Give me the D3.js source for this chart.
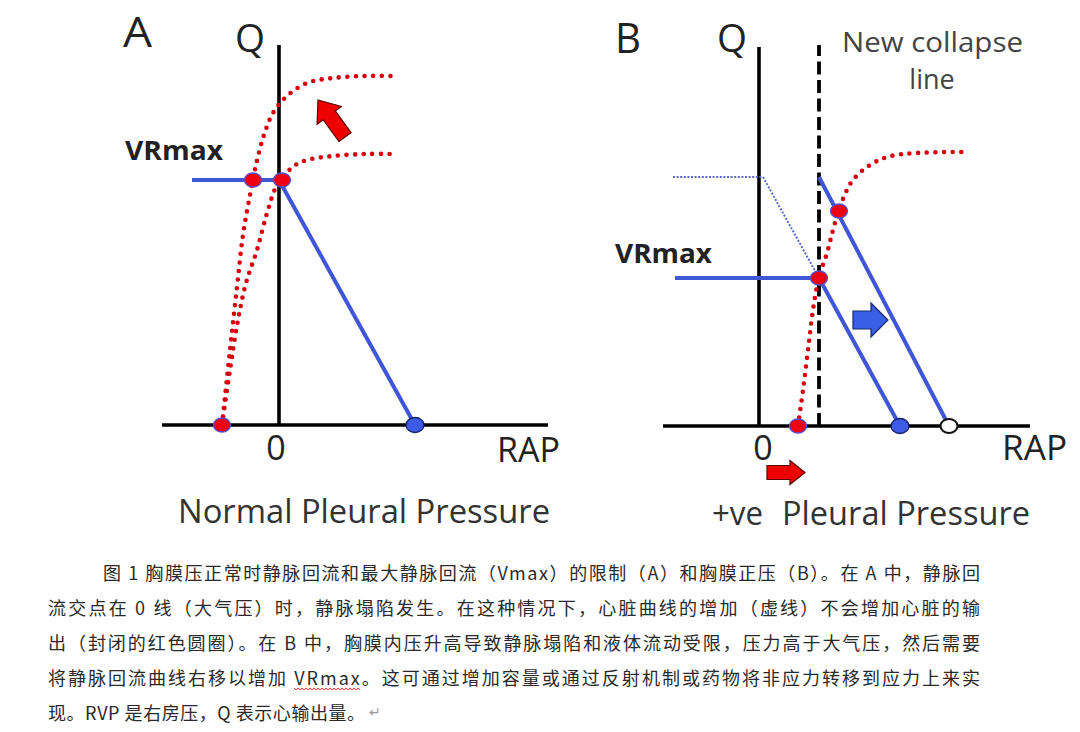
<!DOCTYPE html>
<html><head><meta charset="utf-8">
<script src="https://cdn.jsdelivr.net/npm/d3@7"></script>
<style>body{margin:0;background:#fff}svg{display:block}</style>
</head><body>
<svg id="chart" width="1080" height="732"></svg>
<script>
// ---------- DATA (RAP units on x, Q units on y) ----------
// Panel A
const axisXA = [-5.85, 13.45];
const axisTopA = 7.6;
const cardiacUpperA = [[-2.85,0],[-2.45,1.5],[-2.1,2.76],[-1.8,3.8],[-1.45,4.6],[-1.15,5.2],[-0.75,5.8],[-0.3,6.24],[0.4,6.58],[1.4,6.84],[2.7,6.94],[4.3,6.98],[5.8,6.98]];
const cardiacLowerA = [[-2.85,0],[-2.45,1.1],[-2.05,2.1],[-1.65,2.84],[-1.1,3.5],[-0.6,4.24],[-0.15,4.76],[0.25,4.98],[0.75,5.18],[1.4,5.3],[2.7,5.38],[4.3,5.42],[5.8,5.42]];
const venousReturnA = [[-4.35,4.9],[0,4.9],[6.8,0]];
const redDotsA = [[-1.3,4.9],[0.15,4.9],[-2.85,0]];
const blueDotsA = [[6.8,0]];
const arrowA = [[3.3,5.76],[1.95,6.5]];

// Panel B
const axisXB = [-4.8, 13.55];
const axisTopB = 7.58;
const collapseX = 3.0;
const collapseTop = 7.62;
const cardiacB = [[1.95,0],[2.2,0.72],[2.45,1.52],[2.7,2.32],[3.0,2.98],[3.4,3.46],[3.7,3.92],[4.0,4.32],[4.35,4.68],[4.7,4.92],[5.4,5.18],[6.4,5.38],[7.9,5.46],[10.45,5.48]];
const oldReturnDottedB = [[-4.3,4.98],[0.2,4.98],[3.0,2.96]];
const oldReturnSolidB = [[3.0,2.96],[7.05,0]];
const vrMaxLineB = [[-4.2,2.96],[3.0,2.96]];
const newReturnB = [[3.0,4.98],[9.5,0]];
const redDotsB = [[1.95,0],[3.0,2.96],[4.0,4.3]];
const blueDotsB = [[7.05,0]];
const openDotsB = [[9.5,0]];
const blueArrowB = [[4.7,2.12],[6.45,2.12]];
const redArrowB = [[0.4,-0.93],[2.3,-0.93]];

// Caption
const captionLines = [
  "图 1 胸膜压正常时静脉回流和最大静脉回流（Vmax）的限制（A）和胸膜正压（B）。在 A 中，静脉回",
  "流交点在 0 线（大气压）时，静脉塌陷发生。在这种情况下，心脏曲线的增加（虚线）不会增加心脏的输",
  "出（封闭的红色圆圈）。在 B 中，胸膜内压升高导致静脉塌陷和液体流动受限，压力高于大气压，然后需要",
  "将静脉回流曲线右移以增加 VRmax。这可通过增加容量或通过反射机制或药物将非应力转移到应力上来实",
  "现。RVP 是右房压，Q 表示心输出量。"
];

// ---------- DRAW ----------
const svg = d3.select("#chart");
const xA = d3.scaleLinear().domain([-6,14]).range([159,559]);
const yA = d3.scaleLinear().domain([0,8]).range([425,25]);
const xB = d3.scaleLinear().domain([-6,14]).range([639,1039]);
const yB = d3.scaleLinear().domain([0,8]).range([426,26]);

const RED = "#d8000c", BLUE = "#3f56d6";
const font = "'Open Sans', 'Noto Sans', sans-serif";

function arrowPath(p1, p2, s, h, L){
  const dx = p2[0]-p1[0], dy = p2[1]-p1[1];
  const len = Math.hypot(dx,dy), ux = dx/len, uy = dy/len, nx = -uy, ny = ux;
  const pts = [[0,-s],[len-L,-s],[len-L,-h],[len,0],[len-L,h],[len-L,s],[0,s]];
  return "M" + pts.map(([a,b]) => [p1[0]+ux*a+nx*b, p1[1]+uy*a+ny*b].join(",")).join("L") + "Z";
}

function panel(g, x, y, o){
  const line = d3.line().x(d=>x(d[0])).y(d=>y(d[1]));
  const curve = d3.line().x(d=>x(d[0])).y(d=>y(d[1])).curve(d3.curveCatmullRom.alpha(0.5));
  g.append("line").attr("x1", x(o.axisX[0])).attr("x2", x(o.axisX[1])).attr("y1", y(0)).attr("y2", y(0))
    .attr("stroke","#000").attr("stroke-width",3.6);
  g.append("line").attr("x1", x(0)).attr("x2", x(0)).attr("y1", y(0)).attr("y2", y(o.axisTop))
    .attr("stroke","#000").attr("stroke-width",3.6);
  return {line, curve};
}

// Panel A
const gA = svg.append("g");
const pA = panel(gA, xA, yA, {axisX: axisXA, axisTop: axisTopA});
[cardiacUpperA, cardiacLowerA].forEach(c => {
  gA.append("path").attr("d", pA.curve(c)).attr("fill","none").attr("stroke",RED)
    .attr("stroke-width",4.6).attr("stroke-linecap","round").attr("stroke-dasharray","0 8.6");
});
gA.append("path").attr("d", pA.line(venousReturnA)).attr("fill","none").attr("stroke",BLUE).attr("stroke-width",4);
gA.selectAll(".rd").data(redDotsA).join("ellipse").attr("cx",d=>xA(d[0])).attr("cy",d=>yA(d[1]))
  .attr("rx",8.5).attr("ry",7).attr("fill","#ee0011").attr("stroke","#5a4fc8").attr("stroke-width",1.4);
gA.selectAll(".bd").data(blueDotsA).join("ellipse").attr("cx",d=>xA(d[0])).attr("cy",d=>yA(d[1]))
  .attr("rx",9).attr("ry",7.5).attr("fill","#3c5ce6").attr("stroke","#1a2266").attr("stroke-width",1.4);
gA.append("path").attr("d", arrowPath([xA(arrowA[0][0]),yA(arrowA[0][1])],[xA(arrowA[1][0]),yA(arrowA[1][1])],7.5,15,19))
  .attr("fill","#ee0000").attr("stroke","#5a0000").attr("stroke-width",1.2);

// Panel B
const gB = svg.append("g");
const pB = panel(gB, xB, yB, {axisX: axisXB, axisTop: axisTopB});
gB.append("line").attr("x1", xB(collapseX)).attr("x2", xB(collapseX)).attr("y1", yB(0)).attr("y2", yB(collapseTop))
  .attr("stroke","#000").attr("stroke-width",3.8).attr("stroke-dasharray","13 5.5");
gB.append("path").attr("d", pB.line(oldReturnDottedB)).attr("fill","none").attr("stroke","#5a68c8")
  .attr("stroke-width",2).attr("stroke-dasharray","2 1.6");
gB.append("path").attr("d", pB.curve(cardiacB)).attr("fill","none").attr("stroke",RED)
  .attr("stroke-width",4.6).attr("stroke-linecap","round").attr("stroke-dasharray","0 8.6");
[oldReturnSolidB, vrMaxLineB, newReturnB].forEach(l => {
  gB.append("path").attr("d", pB.line(l)).attr("fill","none").attr("stroke",BLUE).attr("stroke-width",4);
});
gB.selectAll(".rd").data(redDotsB).join("ellipse").attr("cx",d=>xB(d[0])).attr("cy",d=>yB(d[1]))
  .attr("rx",8.5).attr("ry",7).attr("fill","#ee0011").attr("stroke","#5a4fc8").attr("stroke-width",1.4);
gB.selectAll(".bd").data(blueDotsB).join("ellipse").attr("cx",d=>xB(d[0])).attr("cy",d=>yB(d[1]))
  .attr("rx",9).attr("ry",7.5).attr("fill","#3c5ce6").attr("stroke","#1a2266").attr("stroke-width",1.4);
gB.selectAll(".od").data(openDotsB).join("ellipse").attr("cx",d=>xB(d[0])).attr("cy",d=>yB(d[1]))
  .attr("rx",8.5).attr("ry",7).attr("fill","#fff").attr("stroke","#111").attr("stroke-width",2);
gB.append("path").attr("d", arrowPath([xB(blueArrowB[0][0]),yB(blueArrowB[0][1])],[xB(blueArrowB[1][0]),yB(blueArrowB[1][1])],9,17,17))
  .attr("fill","#3a5ee6").attr("stroke","#1a2a66").attr("stroke-width",1.2);
gB.append("path").attr("d", arrowPath([xB(redArrowB[0][0]),yB(redArrowB[0][1])],[xB(redArrowB[1][0]),yB(redArrowB[1][1])],7,12,15))
  .attr("fill","#ee0000").attr("stroke","#5a0000").attr("stroke-width",1.2);

// Labels
function txt(x, y, s, size, opts={}){
  const t = svg.append("text").attr("x",x).attr("y",y).text(s)
    .attr("font-family", opts.family || font).attr("font-size", size)
    .attr("font-weight", opts.weight || 500).attr("fill", opts.fill || "#222")
    .attr("text-anchor", opts.anchor || "start");
  if (opts.len) t.attr("textLength", opts.len).attr("lengthAdjust","spacingAndGlyphs");
  return t;
}
txt(123, 47, "A", 42, {len: 29});
txt(235, 52, "Q", 38, {len: 30});
txt(125, 160, "VRmax", 26, {weight: 700, len: 98});
txt(xA(0)-3, 460, "0", 34, {anchor: "middle"});
txt(497, 462, "RAP", 34, {len: 63});
txt(178, 523, "Normal Pleural Pressure", 32, {len: 372, fill: "#333"});

txt(615, 53, "B", 42, {len: 26});
txt(717, 52, "Q", 38, {len: 30});
txt(842, 52, "New collapse", 27, {len: 181, fill: "#444"});
txt(932, 89, "line", 27, {anchor: "middle", fill: "#444"});
txt(615, 263, "VRmax", 26, {weight: 700, len: 97});
txt(xB(0)+4, 460, "0", 34, {anchor: "middle"});
txt(1002, 460, "RAP", 34, {len: 65});
txt(712, 525, "+ve", 32, {len: 51, fill: "#333"});
txt(782, 525, "Pleural Pressure", 32, {len: 248, fill: "#333"});

// Caption
const capStarts = [103, 48, 48, 48, 48];
const capEnds = [980, 980, 980, 980, 365];
const capY = [572, 607, 642, 677, 712];
const capG = svg.append("g");
const capNodes = captionLines.map((s,i) => capG.append("text").attr("x", capStarts[i]).attr("y", capY[i])
  .attr("dominant-baseline","central").attr("font-family","'Noto Sans CJK SC', sans-serif")
  .attr("font-size",18).attr("font-weight",400).attr("fill","#2a2a2a")
  .attr("textLength", capEnds[i]-capStarts[i]).attr("lengthAdjust","spacing").text(s));
capG.append("text").attr("x", 369).attr("y", 712).attr("dominant-baseline","central")
  .attr("font-family","'DejaVu Sans', sans-serif").attr("font-size",14).attr("fill","#999").text("↵");
// spell-check squiggle under VRmax
try {
  const n = capNodes[3].node();
  const idx = captionLines[3].indexOf("VRmax");
  const a = n.getStartPositionOfChar(idx).x, b = n.getEndPositionOfChar(idx+4).x;
  let d = "M" + a + "," + 688;
  for (let xx = a, k = 0; xx < b; xx += 2, k++) d += "L" + (xx+2) + "," + (k%2 ? 688 : 690);
  capG.append("path").attr("d", d).attr("fill","none").attr("stroke","#e02020").attr("stroke-width",1);
} catch(e) {}
</script>
</body></html>
